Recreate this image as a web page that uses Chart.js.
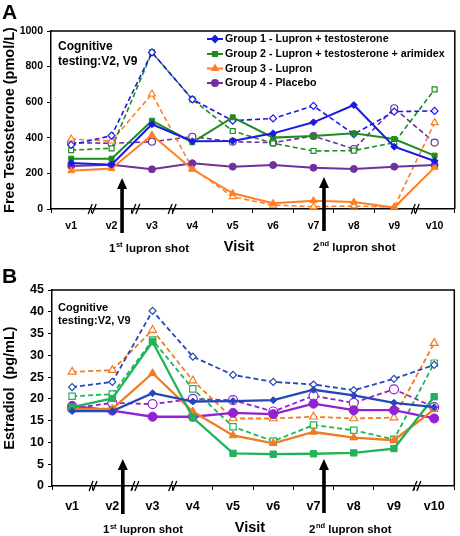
<!DOCTYPE html>
<html lang="en">
<head>
<meta charset="UTF-8">
<title>Free testosterone and estradiol by visit</title>
<style>
  body { margin: 0; background: #ffffff; }
  #wrap { position: relative; width: 460px; height: 536px; }
  canvas { position: absolute; left: 0; }
  #chartA { top: 0; }
  #chartB { top: 268px; }
</style>
</head>
<body>
<div id="wrap">
  <canvas id="chartA" width="460" height="268"></canvas>
  <canvas id="chartB" width="460" height="268"></canvas>
</div>
<script src="https://cdn.jsdelivr.net/npm/chart.js@4.4.1/dist/chart.umd.min.js"></script>
<script>
// visits on the x axis
const visits = ['v1', 'v2', 'v3', 'v4', 'v5', 'v6', 'v7', 'v8', 'v9', 'v10'];
const groupNames = [
  'Group 1 - Lupron + testosterone',
  'Group 2 - Lupron + testosterone + arimidex',
  'Group 3 - Lupron',
  'Group 4 - Placebo'
];

// panel A: free testosterone (pmol/L), solid = filled markers, dashed = open markers
const testoG1 = [258, 249, 476, 380, 382, 425, 487, 584, 350, 270];
const testoG1Open = [360, 412, 880, 616, 496, 509, 579, 420, 547, 551];
const testoG2 = [283, 283, 496, 375, 515, 401, 410, 425, 393, 300];
const testoG2Open = [331, 341, 880, 616, 438, 369, 326, 328, 373, 672];
const testoG3 = [215, 227, 416, 223, 88, 32, 47, 39, 8, 234];
const testoG3Open = [393, 382, 646, 229, 69, 22, 13, 17, 10, 485];
const testoG4 = [242, 249, 223, 257, 238, 247, 232, 225, 238, 247];
const testoG4Open = [373, 369, 378, 406, 378, 373, 410, 337, 566, 373];

// panel B: estradiol (pg/mL)
const estraG1 = [17.2, 17.2, 21.3, 19.4, 19.5, 19.7, 22.1, 20.8, 19.1, 18.1];
const estraG1Open = [22.7, 23.9, 40.2, 29.7, 25.5, 23.9, 23.3, 22.0, 24.6, 27.8];
const estraG2 = [18.1, 20.1, 33.1, 15.7, 7.5, 7.3, 7.4, 7.6, 8.6, 20.5];
const estraG2Open = [20.6, 21.1, 33.5, 22.3, 13.6, 10.3, 14.0, 12.8, 10.7, 28.2];
const estraG3 = [17.7, 17.7, 25.9, 17.1, 11.6, 9.8, 12.4, 11.1, 10.5, 17.6];
const estraG3Open = [26.2, 26.6, 35.8, 24.2, 15.5, 15.5, 15.9, 15.5, 15.7, 32.8];
const estraG4 = [18.4, 17.3, 15.9, 15.9, 16.8, 16.5, 18.9, 17.4, 17.4, 15.5];
const estraG4Open = [17.8, 19.1, 18.8, 20.0, 19.7, 17.1, 20.7, 19.1, 22.2, 18.1];

const colorsA = ['#1a1ae6', '#1e8c1e', '#ff7f27', '#7030a0'];
const colorsB = ['#2448b8', '#22b35a', '#f27a22', '#9421cf'];
const shapes = ['rectRot', 'rect', 'triangle', 'circle'];

function series(label, data, color, shape, open, radius, width) {
  return {
    label: label,
    data: data,
    borderColor: color,
    backgroundColor: open ? '#ffffff' : color,
    pointBackgroundColor: open ? '#ffffff' : color,
    pointBorderColor: color,
    pointStyle: shape,
    pointRadius: radius,
    pointBorderWidth: open ? 1.2 : 1,
    borderWidth: width,
    borderDash: open ? [5, 3] : [],
    tension: 0,
    fill: false
  };
}

// arrows, axis breaks, notes and the legend
const decor = {
  id: 'decor',
  afterDraw(chart, args, o) {
    const ctx = chart.ctx;
    const a = chart.chartArea;
    const x = chart.scales.x;
    ctx.save();

    // box top and right
    ctx.strokeStyle = '#000';
    ctx.lineWidth = 1.5;
    ctx.beginPath();
    ctx.moveTo(a.left, a.top);
    ctx.lineTo(a.right, a.top);
    ctx.lineTo(a.right, a.bottom);
    ctx.stroke();

    ctx.fillStyle = '#000';
    ctx.textAlign = 'left';
    ctx.textBaseline = 'alphabetic';
    ctx.font = 'bold 21px Arial';
    ctx.fillText(o.letter, 2, o.letterY);

    ctx.textBaseline = 'middle';
    ctx.font = 'bold ' + o.noteSize + 'px Arial';
    ctx.fillText('Cognitive', 58, o.noteY[0]);
    ctx.fillText('testing:V2, V9', 58, o.noteY[1]);

    // axis breaks "//"
    ctx.lineWidth = 1.3;
    o.breaks.forEach(function (b) {
      const px = x.getPixelForValue(b);
      [-2, 2].forEach(function (d) {
        ctx.beginPath();
        ctx.moveTo(px + d - 2, a.bottom + 5);
        ctx.lineTo(px + d + 2, a.bottom - 5);
        ctx.stroke();
      });
    });

    // lupron shot arrows
    o.arrows.forEach(function (ar) {
      const px = x.getPixelForValue(ar.at);
      ctx.fillRect(px - 1.8, ar.tip + 9, 3.6, ar.end - ar.tip - 9);
      ctx.beginPath();
      ctx.moveTo(px, ar.tip);
      ctx.lineTo(px - 5, ar.tip + 11);
      ctx.lineTo(px + 5, ar.tip + 11);
      ctx.closePath();
      ctx.fill();
    });

    ctx.textBaseline = 'alphabetic';
    ctx.font = 'bold 14.5px Arial';
    ctx.textAlign = 'center';
    ctx.fillText('Visit', o.visit[0], o.visit[1]);
    ctx.textAlign = 'left';
    supLabel(ctx, o.shot1[0], o.shot1[1], '1', 'st', ' lupron shot');
    supLabel(ctx, o.shot2[0], o.shot2[1], '2', 'nd', ' lupron shot');

    if (o.legend) {
      const ys = [39, 54, 68.5, 83];
      chart.data.datasets.slice(0, 4).forEach(function (ds, i) {
        ctx.strokeStyle = ds.borderColor;
        ctx.lineWidth = 2;
        ctx.setLineDash([]);
        ctx.beginPath();
        ctx.moveTo(207, ys[i]);
        ctx.lineTo(223, ys[i]);
        ctx.stroke();
        ctx.fillStyle = ds.borderColor;
        ctx.strokeStyle = ds.borderColor;
        Chart.helpers.drawPoint(ctx, { pointStyle: ds.pointStyle, radius: 3, borderWidth: 1 }, 215, ys[i]);
        ctx.fillStyle = '#000';
        ctx.font = 'bold 10.7px Arial';
        ctx.textBaseline = 'middle';
        ctx.fillText(groupNames[i], 225, ys[i] + 0.5);
      });
    }
    ctx.restore();
  }
};

function supLabel(ctx, x, y, num, sup, rest) {
  ctx.font = 'bold 11.5px Arial';
  ctx.fillText(num, x, y);
  let w = ctx.measureText(num).width + 0.5;
  ctx.font = 'bold 7.5px Arial';
  ctx.fillText(sup, x + w, y - 4.5);
  w += ctx.measureText(sup).width;
  ctx.font = 'bold 11.5px Arial';
  ctx.fillText(rest, x + w, y);
}

function makeChart(id, sets, cfg) {
  return new Chart(document.getElementById(id), {
    type: 'line',
    data: { labels: visits, datasets: sets },
    plugins: [decor],
    options: {
      responsive: false,
      animation: false,
      devicePixelRatio: 1,
      layout: { padding: { top: cfg.top, right: 2, left: 0, bottom: 0 } },
      plugins: {
        legend: { display: false },
        tooltip: { enabled: false },
        decor: cfg.decor
      },
      scales: {
        x: {
          offset: true,
          afterFit: function (s) { s.height = cfg.xHeight; },
          grid: { offset: true, drawOnChartArea: false, tickLength: 4, color: '#000', lineWidth: 1 },
          border: { color: '#000', width: 1.5 },
          ticks: { color: '#000', padding: cfg.xPad, font: { family: 'Arial', size: cfg.tickSize, weight: 'bold' } }
        },
        y: {
          min: 0,
          max: cfg.max,
          afterFit: function (s) { s.width = cfg.yWidth; },
          grid: { drawOnChartArea: false, tickLength: 4, color: '#000', lineWidth: 1 },
          border: { color: '#000', width: 1.5 },
          ticks: {
            stepSize: cfg.step,
            color: '#000',
            padding: 4,
            callback: function (v) { return String(v); },
            font: { family: 'Arial', size: cfg.tickSize, weight: 'bold' }
          },
          title: {
            display: true,
            text: cfg.title,
            color: '#000',
            padding: { top: 1, bottom: 0 },
            font: { family: 'Arial', size: 14.5, weight: 'bold' }
          }
        }
      }
    }
  });
}

const setsA = [];
const setsB = [];
const testo = [testoG1, testoG2, testoG3, testoG4];
const testoOpen = [testoG1Open, testoG2Open, testoG3Open, testoG4Open];
const estra = [estraG1, estraG2, estraG3, estraG4];
const estraOpen = [estraG1Open, estraG2Open, estraG3Open, estraG4Open];
for (let i = 0; i < 4; i++) {
  setsA.push(series(groupNames[i], testo[i], colorsA[i], shapes[i], false, i === 2 ? 4 : 3.5, 2));
  setsB.push(series(groupNames[i], estra[i], colorsB[i], shapes[i], false, i === 0 ? 3.5 : 4.5, 2.3));
}
for (let i = 0; i < 4; i++) {
  setsA.push(series(groupNames[i] + ' (open)', testoOpen[i], colorsA[i], shapes[i], true, i === 2 ? 4 : 3.5, 1.6));
  setsB.push(series(groupNames[i] + ' (open)', estraOpen[i], colorsB[i], shapes[i], true, i === 0 ? 3.5 : 4.5, 1.8));
}

makeChart('chartA', setsA, {
  top: 31, xHeight: 59, yWidth: 51, xPad: 7, tickSize: 10.5,
  max: 1000, step: 200, title: 'Free Testosterone (pmol/L)',
  decor: {
    letter: 'A', letterY: 18.5, noteSize: 12, noteY: [47, 62],
    breaks: [0.52, 1.6, 2.5, 8.52],
    arrows: [{ at: 1.26, tip: 178, end: 233 }, { at: 6.26, tip: 177, end: 231 }],
    visit: [239, 251], shot1: [109, 251.5], shot2: [313, 250.5],
    legend: true
  }
});

makeChart('chartB', setsB, {
  top: 22, xHeight: 50, yWidth: 52, xPad: 9, tickSize: 12.5,
  max: 45, step: 5, title: 'Estradiol  (pg/mL)',
  decor: {
    letter: 'B', letterY: 14.7, noteSize: 11, noteY: [40, 53],
    breaks: [0.52, 1.56, 2.5, 8.57],
    arrows: [{ at: 1.26, tip: 191, end: 246 }, { at: 6.26, tip: 191, end: 245 }],
    visit: [250, 264], shot1: [103, 265], shot2: [309, 264.5],
    legend: false
  }
});
</script>
</body>
</html>
